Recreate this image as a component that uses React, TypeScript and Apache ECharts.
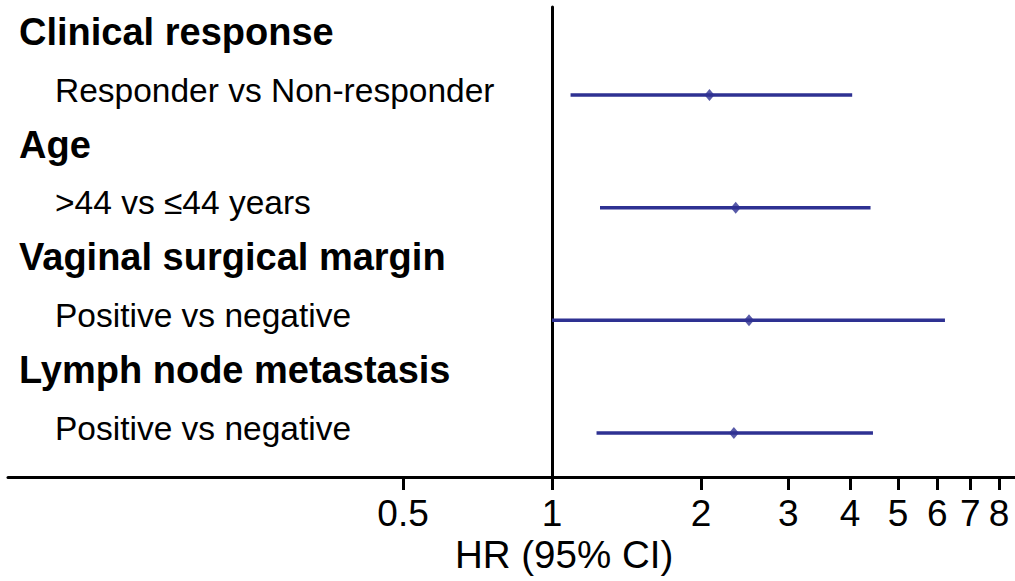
import React, { useEffect, useRef } from "react";
import * as echarts from "echarts";

// Data (hazard ratios with 95% CI)
const groups = ["Clinical response", "Age", "Vaginal surgical margin", "Lymph node metastasis"];
const comparisons = ["Responder vs Non-responder", ">44 vs \u226444 years", "Positive vs negative", "Positive vs negative"];
const hr = [2.08, 2.35, 2.5, 2.33];
const lower = [1.09, 1.25, 1.0, 1.23];
const upper = [4.04, 4.4, 6.22, 4.45];
const tickValues = [0.5, 1, 2, 3, 4, 5, 6, 7, 8];
const axisTitle = "HR (95% CI)";

const FONT = "'Liberation Sans', Arial, Helvetica, sans-serif";
const BLUE = "#2E3192";
const log2 = (v: number) => Math.log(v) / Math.LN2;

export default function App() {
  const ref = useRef<HTMLDivElement>(null);
  useEffect(() => {
    if (!ref.current) return;
    const chart = echarts.init(ref.current, undefined, { renderer: "svg" });

    const HEADER_OFF = 0.559;
    const SUB_OFF = 0.044;
    const yLabelEntries: { v: number; text: string; header: boolean }[] = [];
    groups.forEach((g, i) => {
      yLabelEntries.push({ v: i - HEADER_OFF, text: g, header: true });
      yLabelEntries.push({ v: i - SUB_OFF, text: comparisons[i], header: false });
    });
    const xTicks = tickValues.map(log2);

    const ciData = hr.map((_, i) => [log2(lower[i]), log2(upper[i]), i]);
    const pointData = hr.map((h, i) => [log2(h), i]);

    chart.setOption({
      animation: false,
      backgroundColor: "#fff",
      title: {
        text: axisTitle,
        left: 455,
        top: 535,
        padding: 0,
        textStyle: { fontFamily: FONT, fontSize: 38.5, fontWeight: "normal", color: "#000" },
      },
      grid: { left: 8, right: 0, top: 7, bottom: 104, containLabel: false, outerBoundsMode: "none" },
      xAxis: {
        type: "value",
        min: -3.651,
        max: 3.107,
        splitLine: { show: false },
        axisLine: { show: true, onZero: false, lineStyle: { color: "#000", width: 3 } },
        axisTick: { show: true, length: 13, lineStyle: { color: "#000", width: 3 }, customValues: xTicks },
        axisLabel: {
          customValues: xTicks,
          margin: 18,
          fontFamily: FONT,
          fontSize: 37,
          color: "#000",
          hideOverlap: false,
          formatter: (v: number) => String(+Math.pow(2, v).toFixed(2)),
        },
      },
      yAxis: {
        type: "value",
        inverse: true,
        min: -0.781,
        max: 3.3905,
        splitLine: { show: false },
        axisLine: { show: true, onZero: true, lineStyle: { color: "#000", width: 3 } },
        axisTick: { show: false },
        axisLabel: {
          customValues: yLabelEntries.map((e) => e.v),
          align: "left",
          margin: -11,
          hideOverlap: false,
          formatter: (v: number) => {
            let best = yLabelEntries[0];
            yLabelEntries.forEach((e) => {
              if (Math.abs(e.v - v) < Math.abs(best.v - v)) best = e;
            });
            return best.header ? `{h|${best.text}}` : `{s|${best.text}}`;
          },
          rich: {
            h: { fontFamily: FONT, fontSize: 38, fontWeight: "bold", color: "#000" },
            s: { fontFamily: FONT, fontSize: 33.5, color: "#000", padding: [0, 0, 0, 36] },
          },
        },
      },
      series: [
        {
          type: "custom",
          data: ciData,
          renderItem: (params: any, api: any) => {
            const p1 = api.coord([api.value(0), api.value(2)]);
            const p2 = api.coord([api.value(1), api.value(2)]);
            return {
              type: "line",
              shape: { x1: p1[0], y1: p1[1], x2: p2[0], y2: p2[1] },
              style: { stroke: BLUE, lineWidth: 3.5 },
            };
          },
          z: 3,
        },
        {
          type: "scatter",
          data: pointData,
          symbol: "diamond",
          symbolSize: [10, 12],
          itemStyle: { color: BLUE },
          z: 4,
        },
      ],
    });
    return () => chart.dispose();
  }, []);
  return (
    <div
      ref={ref}
      style={{ position: "absolute", left: 0, top: 0, width: 1015, height: 581, background: "#fff" }}
    />
  );
}
